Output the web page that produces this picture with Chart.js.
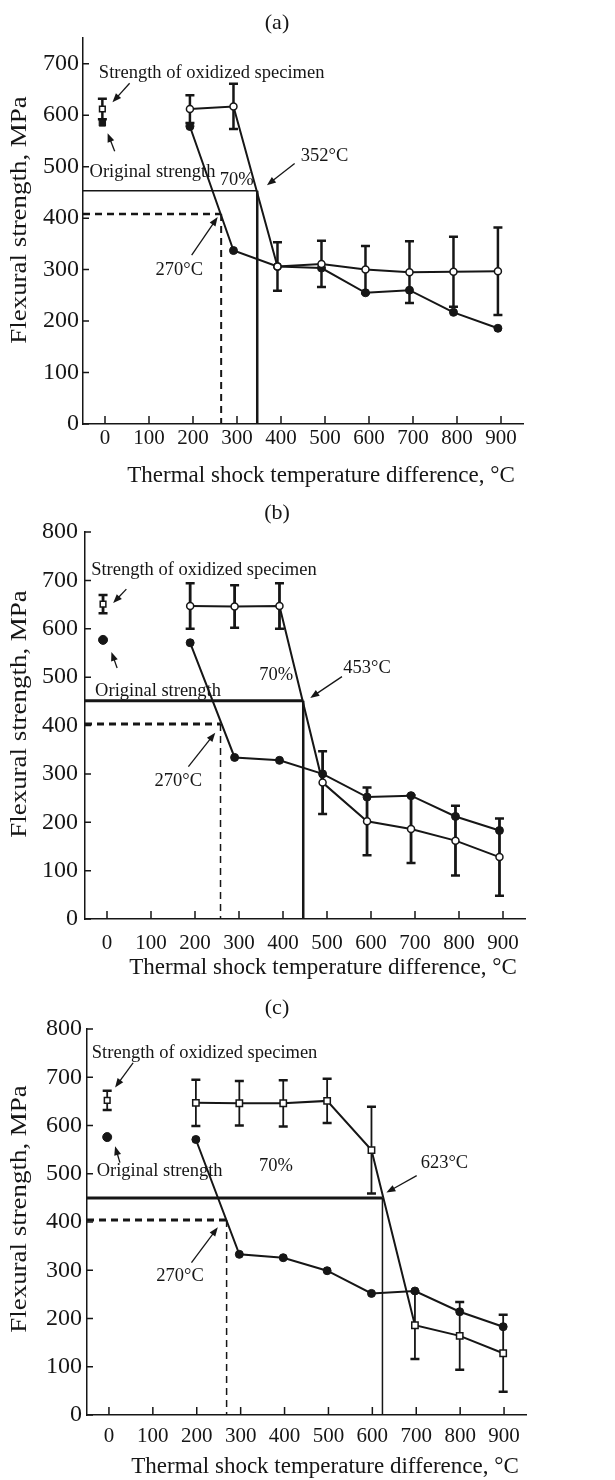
<!DOCTYPE html>
<html>
<head>
<meta charset="utf-8">
<script src="https://cdn.jsdelivr.net/npm/chart.js@4.4.1/dist/chart.umd.min.js"></script>
<style>
  body { margin: 0; background: #fff; width: 615px; height: 1480px; position: relative; overflow: hidden; }
  canvas { position: absolute; left: 0; }
</style>
</head>
<body>
<canvas id="chartA" width="615" height="490" style="top:0px"></canvas>
<canvas id="chartB" width="615" height="490" style="top:490px"></canvas>
<canvas id="chartC" width="615" height="500" style="top:980px"></canvas>
<script>
// tick labels
const xTicks = [0, 100, 200, 300, 400, 500, 600, 700, 800, 900];
const yTicksA = [0, 100, 200, 300, 400, 500, 600, 700];
const yTicksBC = [0, 100, 200, 300, 400, 500, 600, 700, 800];

// first entry of each series = the untreated point near 0 °C
// (a)
const tempA   = [-6, 193, 292, 392, 492, 592, 692, 792, 893];
const origA   = [585, 578, 337, 306, 303, 255, 260, 217, 186];
const oxA     = [612, 612, 617, 306, 311, 300, 295, 296, 297];
const oxErrA  = [20, 27, 44, 47, 45, 46, 60, 68, 85];
const refTempA = [346, 264];   // 70% line, 270 °C line
const refStrA  = [453, 408];

// (b)
const tempB   = [-9, 189, 290, 392, 490, 591, 691, 792, 892];
const origB   = [577, 571, 334, 328, 300, 252, 255, 212, 183];
const oxB     = [651, 647, 646, 647, 282, 202, 186, 162, 128];
const oxErrB  = [19, 47, 44, 47, 65, 70, 70, 72, 80];
const refTempB = [446, 258];
const refStrB  = [451, 403];

// (c)
const tempC   = [-4, 198, 297, 397, 497, 598, 697, 799, 898];
const origC   = [576, 571, 333, 326, 299, 252, 257, 214, 183];
const oxC     = [652, 647, 646, 646, 651, 549, 186, 164, 128];
const oxErrC  = [20, 48, 46, 48, 46, 90, 70, 70, 80];
const refTempC = [623, 268];
const refStrC  = [450, 404];

const ink = '#161616';
const serif = '"Liberation Serif", "Times New Roman", serif';
const X_MIN = -50, X_MAX = 950;

function arrow(ctx, x1, y1, x2, y2) {
    const a = Math.atan2(y2 - y1, x2 - x1), L = 9, W = 3.5;
    const c = Math.cos(a), s = Math.sin(a);
    ctx.beginPath();
    ctx.moveTo(x1, y1);
    ctx.lineTo(x2 - L * 0.7 * c, y2 - L * 0.7 * s);
    ctx.stroke();
    ctx.beginPath();
    ctx.moveTo(x2, y2);
    ctx.lineTo(x2 - L * c + W * s, y2 - L * s - W * c);
    ctx.lineTo(x2 - L * c - W * s, y2 - L * s + W * c);
    ctx.closePath();
    ctx.fill();
}

function makePanel(id, cfg) {
    const pts = (xs, ys) => xs.map((x, i) => ({ x, y: ys[i] }));

    // error bars for datasets that carry an errors array
    const errorBars = {
        id: 'errorBars',
        beforeDatasetsDraw(chart) {
            const { ctx, scales: { x, y } } = chart;
            chart.data.datasets.forEach(ds => {
                if (!ds.errors) return;
                ctx.save();
                ctx.strokeStyle = ink;
                ds.data.forEach((p, j) => {
                    const e = ds.errors[j];
                    const px = x.getPixelForValue(p.x);
                    const top = y.getPixelForValue(p.y + e);
                    const bot = y.getPixelForValue(p.y - e);
                    ctx.lineWidth = cfg.errWidth;
                    ctx.beginPath();
                    ctx.moveTo(px, top); ctx.lineTo(px, bot);
                    ctx.stroke();
                    ctx.lineWidth = 2.5;
                    ctx.beginPath();
                    ctx.moveTo(px - 4.5, top); ctx.lineTo(px + 4.5, top);
                    ctx.moveTo(px - 4.5, bot); ctx.lineTo(px + 4.5, bot);
                    ctx.stroke();
                });
                ctx.restore();
            });
        }
    };

    const decor = {
        id: 'decor',
        afterDraw(chart) {
            const { ctx, chartArea: area, scales: { x, y } } = chart;
            ctx.save();
            ctx.strokeStyle = ink;
            ctx.fillStyle = ink;
            // inward tick marks
            ctx.lineWidth = 1.5;
            ctx.beginPath();
            x.ticks.forEach(t => {
                const px = x.getPixelForValue(t.value);
                ctx.moveTo(px, area.bottom); ctx.lineTo(px, area.bottom - 8);
            });
            y.ticks.forEach(t => {
                const py = y.getPixelForValue(t.value);
                ctx.moveTo(area.left, py); ctx.lineTo(area.left + 6, py);
            });
            ctx.stroke();

            ctx.textAlign = 'center';
            ctx.textBaseline = 'middle';
            ctx.font = '22px ' + serif;
            ctx.fillText(cfg.letter, 277, cfg.letterY);
            ctx.font = '23px ' + serif;
            ctx.fillText('Thermal shock temperature difference, °C', cfg.xTitleX, cfg.xTitleY);
            ctx.save();
            ctx.translate(20, cfg.yTitleY);
            ctx.rotate(-Math.PI / 2);
            ctx.scale(1.17, 1);
            ctx.fillText('Flexural strength, MPa', 0, 0);
            ctx.restore();

            ctx.textAlign = 'left';
            ctx.font = '18.5px ' + serif;
            cfg.notes.forEach(n => {
                ctx.fillText(n.text, x.getPixelForValue(n.at[0]), y.getPixelForValue(n.at[1]));
            });
            ctx.lineWidth = 1.3;
            cfg.arrows.forEach(a => {
                arrow(ctx, x.getPixelForValue(a[0]), y.getPixelForValue(a[1]),
                      x.getPixelForValue(a[2]), y.getPixelForValue(a[3]));
            });
            ctx.restore();
        }
    };

    const openPoint = {
        pointStyle: cfg.openStyle, pointRadius: cfg.openStyle === 'rect' ? 4.5 : 3.5,
        pointBackgroundColor: '#fff', pointBorderColor: ink, pointBorderWidth: 1.5
    };
    const filledPoint = {
        pointStyle: 'circle', pointRadius: 4,
        pointBackgroundColor: ink, pointBorderColor: ink, pointBorderWidth: 1
    };

    const datasets = [
        Object.assign({
            data: pts(cfg.temp.slice(1), cfg.ox.slice(1)), errors: cfg.oxErr.slice(1),
            showLine: true, borderColor: ink, borderWidth: 2
        }, openPoint),
        Object.assign({
            data: pts(cfg.temp.slice(1), cfg.orig.slice(1)),
            showLine: true, borderColor: ink, borderWidth: 2
        }, filledPoint),
        Object.assign({
            data: pts(cfg.temp.slice(0, 1), cfg.ox.slice(0, 1)), errors: cfg.oxErr.slice(0, 1),
            showLine: false
        }, openPoint, { pointStyle: cfg.initStyle[0], pointRadius: 4 }),
        Object.assign({
            data: pts(cfg.temp.slice(0, 1), cfg.orig.slice(0, 1)),
            showLine: false
        }, filledPoint, { pointStyle: cfg.initStyle[1], pointRadius: 4.5 }),
        {
            data: [{ x: X_MIN, y: cfg.refStr[0] }, { x: cfg.refTemp[0], y: cfg.refStr[0] }, { x: cfg.refTemp[0], y: 0 }],
            showLine: true, pointRadius: 0, borderColor: ink,
            segment: { borderWidth: c => c.p0DataIndex === 0 ? cfg.refW[0] : cfg.refW[1] }
        },
        {
            data: [{ x: X_MIN, y: cfg.refStr[1] }, { x: cfg.refTemp[1], y: cfg.refStr[1] }, { x: cfg.refTemp[1], y: 0 }],
            showLine: true, pointRadius: 0, borderColor: ink, borderDash: [7, 5],
            segment: { borderWidth: c => c.p0DataIndex === 0 ? cfg.refW[2] : cfg.refW[3] }
        }
    ];

    return new Chart(document.getElementById(id), {
        type: 'scatter',
        data: { datasets },
        options: {
            responsive: false,
            animation: false,
            devicePixelRatio: 1,
            layout: { padding: { top: cfg.area.top, right: 615 - cfg.area.right, left: 0, bottom: 0 } },
            plugins: { legend: { display: false }, tooltip: { enabled: false } },
            scales: {
                x: {
                    type: 'linear', min: X_MIN, max: X_MAX,
                    afterBuildTicks: s => { s.ticks = xTicks.map(v => ({ value: v })); },
                    afterFit: s => { s.height = cfg.height - cfg.area.bottom; },
                    grid: { display: false, drawTicks: false },
                    border: { color: ink, width: 1.5 },
                    ticks: { color: ink, font: { family: serif, size: 21 }, padding: cfg.xPad, maxRotation: 0, autoSkip: false }
                },
                y: {
                    min: 0, max: cfg.yMax,
                    afterBuildTicks: s => { s.ticks = cfg.yTicks.map(v => ({ value: v })); },
                    afterFit: s => { s.width = cfg.area.left; },
                    grid: { display: false, drawTicks: false },
                    border: { color: ink, width: 1.5 },
                    ticks: { color: ink, font: { family: serif, size: 24 }, padding: cfg.yPad }
                }
            }
        },
        plugins: [errorBars, decor]
    });
}

makePanel('chartA', {
    temp: tempA, orig: origA, ox: oxA, oxErr: oxErrA, refTemp: refTempA, refStr: refStrA,
    yTicks: yTicksA, yMax: 750, height: 490,
    area: { left: 83, right: 523, top: 38, bottom: 424 },
    xPad: 2, yPad: 4, errWidth: 2.5, refW: [1.5, 2.5, 2.5, 2],
    openStyle: 'circle', initStyle: ['rect', 'rect'],
    letter: '(a)', letterY: 23, xTitleX: 321, xTitleY: 476, yTitleY: 220,
    notes: [
        { text: 'Strength of oxidized specimen', at: [-14, 682] },
        { text: 'Original strength', at: [-35, 489] },
        { text: '70%', at: [261, 473] },
        { text: '352°C', at: [445, 520] },
        { text: '270°C', at: [115, 299] }
    ],
    arrows: [[56, 662, 17, 625], [22, 530, 6, 565], [431, 506, 368, 464], [197, 328, 256, 402]]
});

makePanel('chartB', {
    temp: tempB, orig: origB, ox: oxB, oxErr: oxErrB, refTemp: refTempB, refStr: refStrB,
    yTicks: yTicksBC, yMax: 800, height: 490,
    area: { left: 85, right: 525, top: 42, bottom: 429 },
    xPad: 12, yPad: 7, errWidth: 2.8, refW: [3, 2.5, 3, 1.5],
    openStyle: 'circle', initStyle: ['rect', 'circle'],
    letter: '(b)', letterY: 23, xTitleX: 323, xTitleY: 478, yTitleY: 224,
    notes: [
        { text: 'Strength of oxidized specimen', at: [-36, 722] },
        { text: 'Original strength', at: [-27, 472] },
        { text: '70%', at: [346, 504] },
        { text: '453°C', at: [537, 519] },
        { text: '270°C', at: [108, 286] }
    ],
    arrows: [[44, 682, 14, 653], [23, 519, 10, 552], [534, 501, 462, 457], [185, 315, 246, 385]]
});

makePanel('chartC', {
    temp: tempC, orig: origC, ox: oxC, oxErr: oxErrC, refTemp: refTempC, refStr: refStrC,
    yTicks: yTicksBC, yMax: 800, height: 500,
    area: { left: 87, right: 526, top: 49, bottom: 435 },
    xPad: 9, yPad: 5, errWidth: 1.8, refW: [3, 1.5, 3, 1.5],
    openStyle: 'rect', initStyle: ['rect', 'circle'],
    letter: '(c)', letterY: 28, xTitleX: 325, xTitleY: 487, yTitleY: 229,
    notes: [
        { text: 'Strength of oxidized specimen', at: [-39, 750] },
        { text: 'Original strength', at: [-28, 505] },
        { text: '70%', at: [342, 515] },
        { text: '623°C', at: [710, 522] },
        { text: '270°C', at: [108, 287] }
    ],
    arrows: [[55, 730, 14, 679], [25, 523, 14, 557], [701, 496, 632, 461], [188, 316, 248, 389]]
});
</script>
</body>
</html>
